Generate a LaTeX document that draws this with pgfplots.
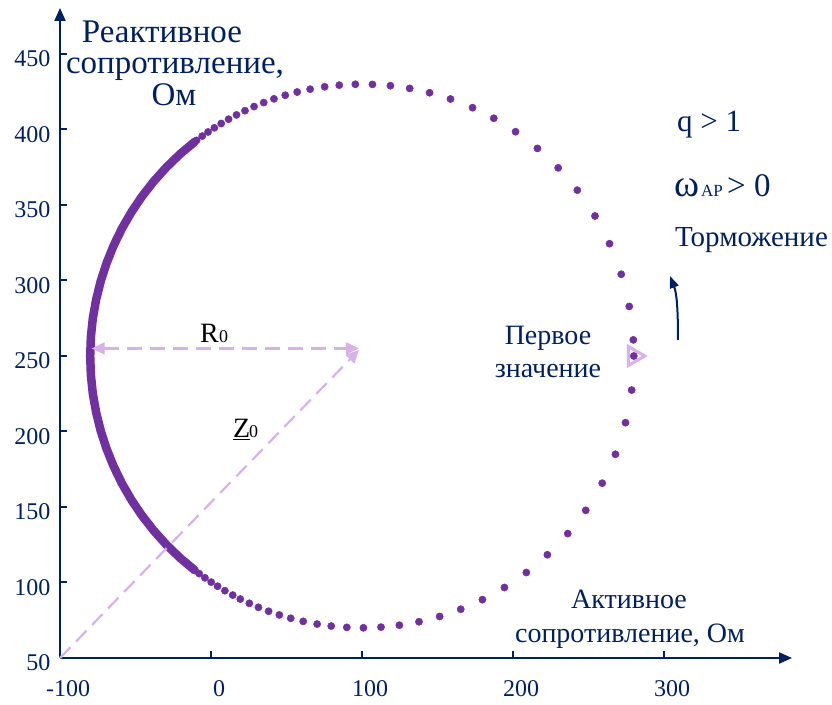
\documentclass[border=0pt]{standalone}
\usepackage{fontspec}
\setmainfont{Liberation Serif}
\usepackage{pgfplots}
\pgfplotsset{compat=1.18}
\usetikzlibrary{arrows.meta}
\definecolor{navy}{HTML}{002060}
\definecolor{dotpurple}{HTML}{7030A0}
\definecolor{lilac}{RGB}{214,178,232}

\begin{document}
\begin{tikzpicture}
\begin{axis}[
  x=1.51pt, y=1.51pt,
  xmin=-100, xmax=384.8, ymin=50, ymax=480.5,
  axis lines=left,
  axis line style={draw=navy, line width=2.2pt, -{Triangle[length=13pt,width=11pt]}},
  xtick={-100,0,100,200,300},
  xticklabels={-100,0,100,200,300},
  ytick={50,100,150,200,250,300,350,400,450},
  yticklabels={50,100,150,200,250,300,350,400,450},
  tick align=inside,
  major tick length=7pt,
  tick style={draw=navy, line width=2pt},
  xticklabel style={font=\fontsize{24}{24}\selectfont, text=navy, xshift=8pt, yshift=-19pt},
  yticklabel style={font=\fontsize{24}{24}\selectfont, text=navy, xshift=-6pt, yshift=-5pt},
  clip=false,
]
\coordinate (TL) at (axis cs:-139.74,485.76);
\coordinate (BR) at (axis cs:411.26,18.87);

% densely packed part of the locus on the left
\addplot[no marks, draw=dotpurple, line width=8.5pt, line cap=round] coordinates {
(-10.82,391.84) (-20.44,383.77) (-29.48,375.04) (-37.89,365.70) (-45.62,355.80)
(-52.65,345.39) (-58.93,334.50) (-64.44,323.21) (-69.14,311.56) (-73.03,299.62)
(-76.07,287.42) (-78.25,275.05) (-79.56,262.56) (-80,250) (-79.56,237.44)
(-78.25,224.95) (-76.07,212.58) (-73.03,200.38) (-69.14,188.44) (-64.44,176.79)
(-58.93,165.50) (-52.65,154.61) (-45.62,144.20) (-37.89,134.30) (-29.48,124.96)
(-20.44,116.23) (-10.82,108.16)
};

% first value marker
\addplot[only marks, draw=lilac, line width=3pt, mark=triangle, mark size=11pt,
  mark options={solid, rotate=-90, draw=lilac, line width=3pt}] coordinates {(280,250)};

% impedance locus points
\addplot[only marks, color=dotpurple, mark=*, mark size=3.6pt,
  mark options={solid, draw=dotpurple, fill=dotpurple, line width=0.5pt}] coordinates {
(280,250)
(279.68,260.68) (276.99,282.80) (271.67,304.13) (263.92,324.36) (254.29,342.71)
(242.61,359.83) (229.92,374.59) (216.18,387.48) (201.69,398.52) (187.27,407.43)
(173.21,414.44) (158.60,420.19) (144.76,424.34) (131.57,427.21) (118.82,429.01)
(106.91,429.87) (95.60,429.95) (84.94,429.37) (75.26,428.29) (65.65,426.69)
(57.06,424.80) (49.18,422.68) (41.69,420.30) (34.91,417.82) (28.51,415.20)
(22.51,412.47) (16.88,409.66) (11.64,406.82) (6.75,403.96) (2.23,401.13)
(-1.95,398.34) (-5.80,395.62) (-9.58,392.80)
(278.58,227.44) (274.50,205.84) (267.82,184.91) (259.08,165.77) (248.17,147.79)
(236.26,132.38) (222.76,118.36) (208.83,106.62) (194.32,96.69) (179.75,88.63)
(165.39,82.30) (151.42,77.50) (137.73,74.00) (124.74,71.71) (112.56,70.44)
(100.94,70.00) (89.95,70.28) (79.62,71.16) (70.29,72.47) (61.04,74.27)
(52.81,76.30) (45.27,78.52) (38.14,80.96) (31.41,83.58) (25.36,86.21)
(19.40,89.05) (14.39,91.66) (9.18,94.59) (4.35,97.52) (0.13,100.25)
(-4.01,103.09) (-7.82,105.87) (-11.31,108.55) (-14.74,111.31)
};

% R0 and Z0 guides
\addplot[no marks, draw=lilac, line width=2.2pt, dash pattern=on 15pt off 8pt,
  {Triangle[length=13pt,width=12pt]}-{Triangle[length=13pt,width=12pt]}]
  coordinates {(-79,255) (98,255)};
\addplot[no marks, draw=lilac, line width=2.2pt, dash pattern=on 15pt off 8pt,
  -{Triangle[length=13pt,width=12pt]}]
  coordinates {(-100,50) (98,254)};
\end{axis}

\pgfresetboundingbox
\path[use as bounding box] (TL) rectangle (BR);

\begin{scope}[shift={(TL)}, x=1pt, y=-1pt]
  \begin{scope}[every node/.style={inner sep=0pt, text=navy, font=\fontsize{33}{33}\selectfont}]
    \node[anchor=base] at (162,43) {Реактивное};
    \node[anchor=base] at (175,74) {сопротивление,};
    \node[anchor=base] at (174,106) {Ом};
  \end{scope}
  \begin{scope}[every node/.style={inner sep=0pt, text=navy, font=\fontsize{28}{28}\selectfont}]
    \node[anchor=base] at (548,345) {Первое};
    \node[anchor=base] at (548,378) {значение};
    \node[anchor=base] at (629,609) {Активное};
    \node[anchor=base] at (630,643) {сопротивление, Ом};
    \node[anchor=base west, font=\fontsize{31}{31}\selectfont] at (677,132) {q > 1};
    \node[anchor=base west, font=\fontsize{29}{29}\selectfont] at (675,247) {Торможение};
    \node[anchor=base west, font=\fontsize{38}{38}\selectfont] at (674,197) {ω};
    \node[anchor=base west, font=\fontsize{17}{17}\selectfont] at (701,197) {AP};
    \node[anchor=base west, font=\fontsize{33}{33}\selectfont] at (727,197) {> 0};
  \end{scope}
  \begin{scope}[every node/.style={inner sep=0pt, text=black}]
    \node[anchor=base west, font=\fontsize{28}{28}\selectfont] at (200,343) {R};
    \node[anchor=base west, font=\fontsize{18}{18}\selectfont] at (219,343) {0};
    \node[anchor=base west, font=\fontsize{28}{28}\selectfont] at (233,438) {\underline{Z}};
    \node[anchor=base west, font=\fontsize{18}{18}\selectfont] at (249,438) {0};
  \end{scope}
  \draw[navy, line width=2pt, -{Triangle[length=12pt,width=9pt]}]
    (678,340) .. controls (678,312) and (677,294) .. (670,276);
\end{scope}
\end{tikzpicture}
\end{document}
